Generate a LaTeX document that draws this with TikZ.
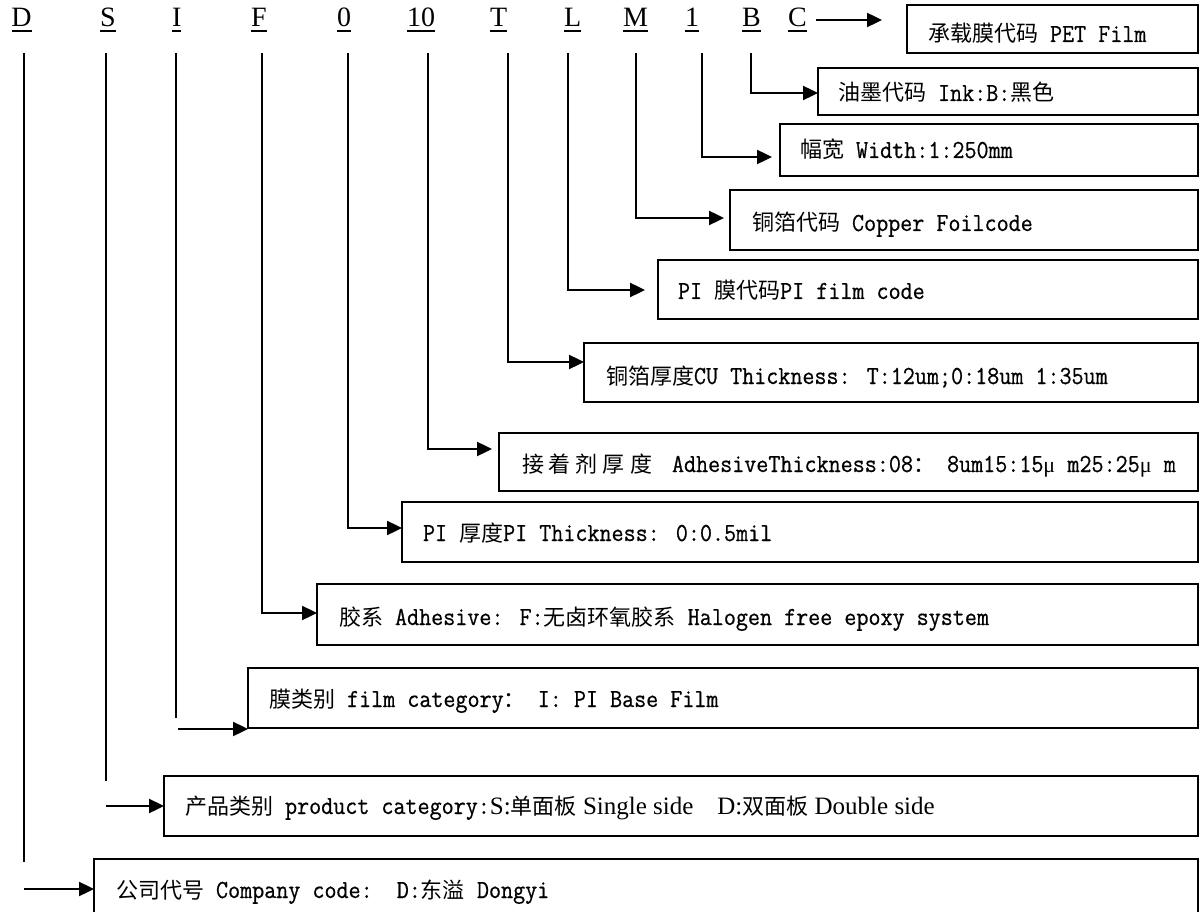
\documentclass[tikz,border=0pt]{standalone}
\usepackage{fontspec}
\setmainfont{Liberation Serif}
\newfontfamily\cjk{Noto Sans CJK SC}
\newfontfamily\mono[FakeStretch=0.9,FakeBold=0.6]{Latin Modern Mono}
\usetikzlibrary{arrows.meta}
\newcommand\Cj[1]{{\fontsize{22}{26}\selectfont\cjk #1}}
\newcommand\Tm[1]{{\fontsize{25}{28}\selectfont\rmfamily #1}}
\newcommand\Mu{\makebox[24pt][l]{\fontsize{22}{26}\selectfont\rmfamily μ}}
\tikzset{
  letter/.style={inner sep=0pt, outer sep=0pt, anchor=base west, font=\fontsize{28}{30}\selectfont\rmfamily},
  boxnode/.style={draw, line width=1.8pt, inner sep=0pt, outer sep=0pt, anchor=north west},
  lbl/.style={inner sep=0pt, outer sep=0pt, anchor=base west, font=\fontsize{26}{28}\selectfont\mono},
  vline/.style={line width=1.6pt},
  arr/.style={line width=2.4pt, -{Triangle[length=15pt,width=14pt]}},
  uline/.style={line width=1.2pt},
}
\begin{document}
\begin{tikzpicture}[x=1pt, y=-1pt]
\useasboundingbox (0,0) rectangle (1203,912);
% code letters
\node[letter] (lD) at (11.5,27) {D};
\node[letter] (lS) at (100,27) {S};
\node[letter] (lI) at (172,27) {I};
\node[letter] (lF) at (251,27) {F};
\node[letter] (l0) at (337,27) {0};
\node[letter] (l10) at (407,27) {10};
\node[letter] (lT) at (490,27) {T};
\node[letter] (lL) at (564,27) {L};
\node[letter] (lM) at (623,27) {M};
\node[letter] (l1) at (685,27) {1};
\node[letter] (lB) at (742,27) {B};
\node[letter] (lC) at (788,27) {C};
\foreach \n in {lD,lS,lI,lF,l0,l10,lT,lL,lM,l1,lB,lC}
  \draw[uline] ([yshift=-4pt]\n.base west) -- ([yshift=-4pt]\n.base east);
% boxes
\node[boxnode, minimum width=291pt, minimum height=48pt] (b1) at (907,5) {};
\node[boxnode, minimum width=380pt, minimum height=47pt] (b2) at (818,68) {};
\node[boxnode, minimum width=418pt, minimum height=52pt] (b3) at (780,124) {};
\node[boxnode, minimum width=468pt, minimum height=60pt] (b4) at (730,190) {};
\node[boxnode, minimum width=540pt, minimum height=59pt] (b5) at (658,260) {};
\node[boxnode, minimum width=614pt, minimum height=59pt] (b6) at (584,343) {};
\node[boxnode, minimum width=699pt, minimum height=58pt] (b7) at (499,433) {};
\node[boxnode, minimum width=796pt, minimum height=60pt] (b8) at (402,502) {};
\node[boxnode, minimum width=881pt, minimum height=61pt] (b9) at (317,584) {};
\node[boxnode, minimum width=950pt, minimum height=60pt] (b10) at (248,668) {};
\node[boxnode, minimum width=1034pt, minimum height=60pt] (b11) at (164,776) {};
\node[boxnode, minimum width=1104pt, minimum height=62pt] (b12) at (94,859) {};
% texts
\node[lbl] (t1) at (928,42) {\Cj{承载膜代码} PET Film};
\node[lbl] (t2) at (838,101) {\Cj{油墨代码} Ink:B:\Cj{黑色}};
\node[lbl] (t3) at (800,158) {\Cj{幅宽} Width:1:250mm};
\node[lbl] (t4) at (752,231) {\Cj{铜箔代码} Copper Foilcode};
\node[lbl] (t5) at (678,299) {PI \Cj{膜代码}PI film code};
\node[lbl] (t6) at (606,384) {\Cj{铜箔厚度}CU Thickness: T:12um;0:18um 1:35um};
\node[lbl] (t7) at (522,472) {\Cj{接\hspace{5pt}着\hspace{5pt}剂\hspace{5pt}厚\hspace{5pt}度}\hspace{20pt}AdhesiveThickness:08\Cj{：} 8um15:15\Mu m25:25\Mu m};
\node[lbl] (t8) at (423,541) {PI \Cj{厚度}PI Thickness: 0:0.5mil};
\node[lbl] (t9) at (339,625) {\Cj{胶系} Adhesive: F:\Cj{无卤环氧胶系} Halogen free epoxy system};
\node[lbl] (t10) at (269,707) {\Cj{膜类别} film category\Cj{：} I: PI Base Film};
\node[lbl] (t11) at (185,814) {\Cj{产品类别} product category:\Tm{S:}\Cj{单面板}\Tm{\ Single side}\hspace{24pt}\Tm{D:}\Cj{双面板}\Tm{\ Double side}};
\node[lbl] (t12) at (116,898) {\Cj{公司代号} Company code:\ \ D:\Cj{东溢} Dongyi};
% connector points
\coordinate (vD) at (24,53);   \coordinate (eD) at (24,862);  \coordinate (aD) at (24,889);
\coordinate (vS) at (106,53);  \coordinate (eS) at (106,781); \coordinate (aS) at (106,806);
\coordinate (vI) at (176,53);  \coordinate (eI) at (176,718); \coordinate (aI) at (178,729);
\coordinate (vF) at (262,53);  \coordinate (kF) at (262,613);
\coordinate (v0) at (348,53);  \coordinate (k0) at (348,528);
\coordinate (v10) at (428,53); \coordinate (k10) at (428,449); \coordinate (e10) at (492,449);
\coordinate (vT) at (508,53);  \coordinate (kT) at (508,362);
\coordinate (vL) at (568,53);  \coordinate (kL) at (568,290); \coordinate (eL) at (645,290);
\coordinate (vM) at (636,53);  \coordinate (kM) at (636,218); \coordinate (eM) at (724,218);
\coordinate (v1) at (702,53);  \coordinate (k1) at (702,157); \coordinate (e1) at (772,157);
\coordinate (vB) at (751,53);  \coordinate (kB) at (751,93);
\coordinate (sC) at (816,20);  \coordinate (eC) at (882,20);
% connectors
\draw[vline] (vD) -- (eD);  \draw[arr] (aD) -- (aD -| b12.west);
\draw[vline] (vS) -- (eS);  \draw[arr] (aS) -- (aS -| b11.west);
\draw[vline] (vI) -- (eI);  \draw[arr] (aI) -- (aI -| b10.west);
\draw[vline] (vF) -- (kF);  \draw[arr] ([xshift=-0.8pt]kF) -- (kF -| b9.west);
\draw[vline] (v0) -- (k0);  \draw[arr] ([xshift=-0.8pt]k0) -- (k0 -| b8.west);
\draw[vline] (v10) -- (k10); \draw[arr] ([xshift=-0.8pt]k10) -- (e10);
\draw[vline] (vT) -- (kT);  \draw[arr] ([xshift=-0.8pt]kT) -- (kT -| b6.west);
\draw[vline] (vL) -- (kL);  \draw[arr] ([xshift=-0.8pt]kL) -- (eL);
\draw[vline] (vM) -- (kM);  \draw[arr] ([xshift=-0.8pt]kM) -- (eM);
\draw[vline] (v1) -- (k1);  \draw[arr] ([xshift=-0.8pt]k1) -- (e1);
\draw[vline] (vB) -- (kB);  \draw[arr] ([xshift=-0.8pt]kB) -- (kB -| b2.west);
\draw[arr] (sC) -- (eC);
\end{tikzpicture}
\end{document}
